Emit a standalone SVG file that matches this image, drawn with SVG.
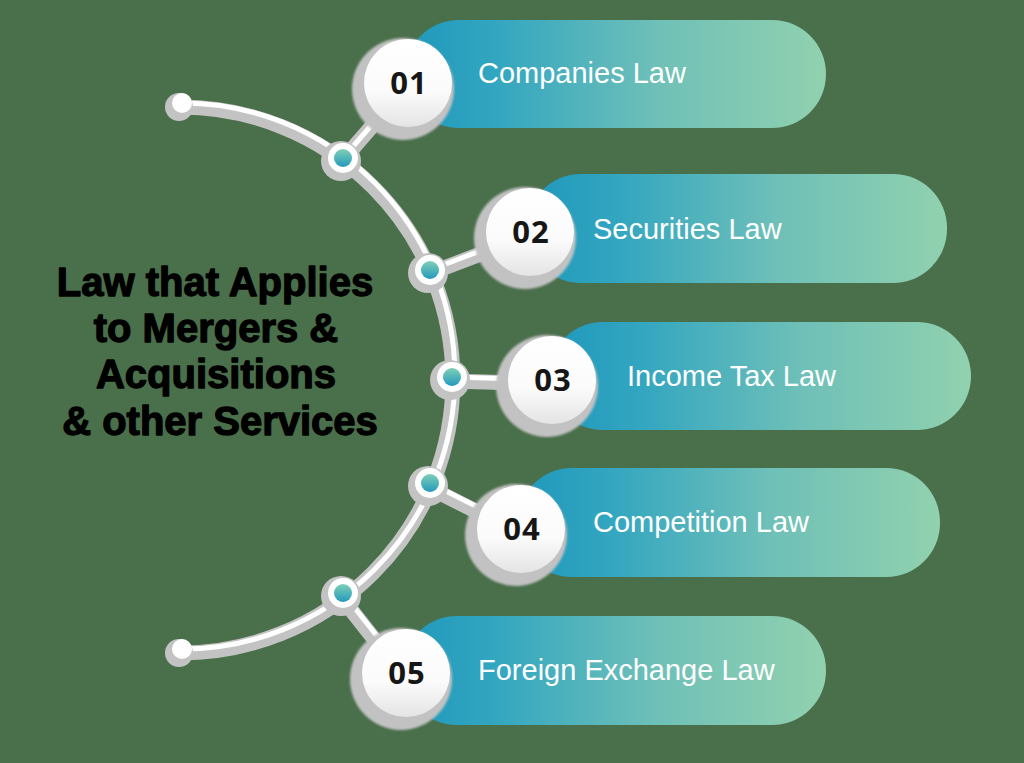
<svg xmlns="http://www.w3.org/2000/svg" width="1024" height="763" viewBox="0 0 1024 763">
<defs>
<linearGradient id="pill" x1="0" y1="0" x2="1" y2="0">
<stop offset="0" stop-color="#1f98bc"/>
<stop offset="0.22" stop-color="#33a6c0"/>
<stop offset="0.6" stop-color="#6fc0b8"/>
<stop offset="1" stop-color="#91d1ae"/>
</linearGradient>
<linearGradient id="disc" x1="0" y1="0" x2="0" y2="1">
<stop offset="0" stop-color="#ffffff"/>
<stop offset="0.6" stop-color="#fbfbfb"/>
<stop offset="1" stop-color="#e4e4e4"/>
</linearGradient>
<linearGradient id="dot" x1="0" y1="0" x2="0" y2="1">
<stop offset="0" stop-color="#7fd0b6"/>
<stop offset="1" stop-color="#2499bd"/>
</linearGradient>
<filter id="sh" x="-20%" y="-20%" width="140%" height="140%">
<feGaussianBlur stdDeviation="1.2"/>
</filter>
</defs>
<style>
.bg{fill:#4a6f4b}
.band{fill:none;stroke:#c3c3c3;stroke-width:15;stroke-linecap:round}
.line{fill:none;stroke:#ffffff;stroke-width:5;stroke-linecap:round}
.pillr{fill:url(#pill)}
.ring{fill:#c2c2c2}
.disc{fill:url(#disc)}
.num{font-family:"Open Sans","Liberation Sans",sans-serif;font-weight:700;font-size:31px;fill:#161616;text-anchor:middle;letter-spacing:1px}
.lab{font-family:"Liberation Sans",Arial,sans-serif;font-size:29px;fill:#ffffff}
.title{font-family:"Liberation Sans",Arial,sans-serif;font-weight:700;font-size:40px;fill:#000000;stroke:#000000;stroke-width:1.3;stroke-linejoin:round;text-anchor:middle}
.jring{fill:#c3c3c3}
.jwhite{fill:#ffffff}
.jdot{fill:url(#dot)}
</style>
<rect class="bg" x="0" y="0" width="1024" height="763"/>

<g id="connectors">
<g transform="translate(-2,4)">
<path class="band" d="M 182 103 A 273 273 0 0 1 182 649"/>
<path class="band" d="M 343 158 L 408 83"/>
<path class="band" d="M 430 270 L 530 232"/>
<path class="band" d="M 452 377 L 552 380"/>
<path class="band" d="M 430 483 L 521 529"/>
<path class="band" d="M 343 593 L 406 673"/>
</g>
<path class="line" d="M 182 103 A 273 273 0 0 1 182 649"/>
<path class="line" d="M 343 158 L 408 83"/>
<path class="line" d="M 430 270 L 530 232"/>
<path class="line" d="M 452 377 L 552 380"/>
<path class="line" d="M 430 483 L 521 529"/>
<path class="line" d="M 343 593 L 406 673"/>
<circle class="jring" cx="179" cy="107" r="14"/>
<circle class="jwhite" cx="182" cy="103" r="10"/>
<circle class="jring" cx="179" cy="653" r="14"/>
<circle class="jwhite" cx="182" cy="649" r="10"/>
<circle class="jring" cx="341" cy="161" r="20"/>
<circle class="jwhite" cx="343" cy="158" r="15"/>
<circle class="jdot" cx="343" cy="158" r="9"/>
<circle class="jring" cx="428" cy="273" r="20"/>
<circle class="jwhite" cx="430" cy="270" r="15"/>
<circle class="jdot" cx="430" cy="270" r="9"/>
<circle class="jring" cx="450" cy="380" r="20"/>
<circle class="jwhite" cx="452" cy="377" r="15"/>
<circle class="jdot" cx="452" cy="377" r="9"/>
<circle class="jring" cx="428" cy="486" r="20"/>
<circle class="jwhite" cx="430" cy="483" r="15"/>
<circle class="jdot" cx="430" cy="483" r="9"/>
<circle class="jring" cx="341" cy="596" r="20"/>
<circle class="jwhite" cx="343" cy="593" r="15"/>
<circle class="jdot" cx="343" cy="593" r="9"/>
</g>

<g id="title">
<text class="title" x="215" y="296">Law that Applies</text>
<text class="title" x="216" y="342">to Mergers &amp;</text>
<text class="title" x="216" y="388">Acquisitions</text>
<text class="title" x="220" y="435">&amp; other Services</text>
</g>

<g id="node1">
<rect class="pillr" x="405" y="20" width="421" height="108" rx="54"/>
<circle class="ring" cx="403" cy="89" r="51" filter="url(#sh)"/>
<circle class="disc" cx="408" cy="83" r="44"/>
<text class="num" x="409" y="94">01</text>
<text class="lab" x="478" y="83">Companies Law</text>
</g>

<g id="node2">
<rect class="pillr" x="527" y="174" width="420" height="109" rx="54"/>
<circle class="ring" cx="525" cy="238" r="51" filter="url(#sh)"/>
<circle class="disc" cx="530" cy="232" r="44"/>
<text class="num" x="531" y="243">02</text>
<text class="lab" x="593" y="239">Securities Law</text>
</g>

<g id="node3">
<rect class="pillr" x="549" y="322" width="422" height="108" rx="54"/>
<circle class="ring" cx="547" cy="386" r="51" filter="url(#sh)"/>
<circle class="disc" cx="552" cy="380" r="44"/>
<text class="num" x="553" y="391">03</text>
<text class="lab" x="627" y="386">Income Tax Law</text>
</g>

<g id="node4">
<rect class="pillr" x="518" y="468" width="422" height="109" rx="54"/>
<circle class="ring" cx="516" cy="535" r="51" filter="url(#sh)"/>
<circle class="disc" cx="521" cy="529" r="44"/>
<text class="num" x="522" y="540">04</text>
<text class="lab" x="593" y="532">Competition Law</text>
</g>

<g id="node5">
<rect class="pillr" x="403" y="616" width="423" height="109" rx="54"/>
<circle class="ring" cx="401" cy="679" r="51" filter="url(#sh)"/>
<circle class="disc" cx="406" cy="673" r="44"/>
<text class="num" x="407" y="684">05</text>
<text class="lab" x="478" y="680">Foreign Exchange Law</text>
</g>
</svg>
